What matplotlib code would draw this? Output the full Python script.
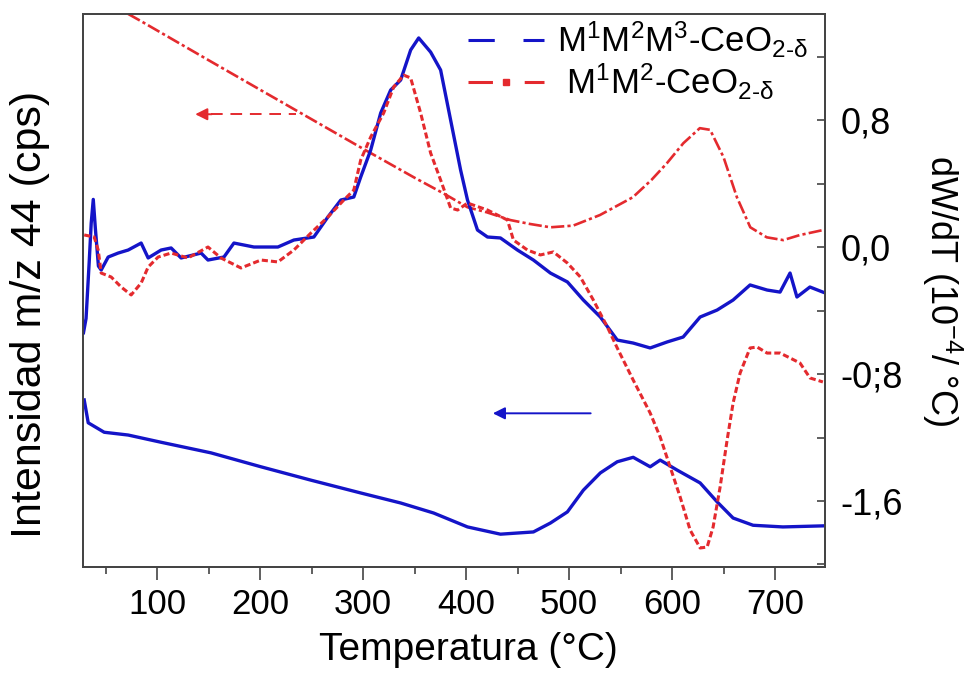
import numpy as np
import matplotlib.pyplot as plt
from matplotlib.lines import Line2D
from matplotlib.ticker import FixedLocator, MultipleLocator

plt.rcParams['font.family'] = ['Liberation Sans', 'DejaVu Sans']
plt.rcParams['mathtext.fontset'] = 'custom'
plt.rcParams['mathtext.rm'] = 'Liberation Sans'
plt.rcParams['mathtext.it'] = 'Liberation Sans'

BLUE = '#1414c8'
RED = '#e42a2e'

# MS signal m/z 44 (left axis, arbitrary units)
ms_blue_t = [29.2, 33.1, 48.6, 71.9, 103.9, 152.3, 200.8, 249.3, 297.7, 336.5,
             368.5, 401.4, 433.4, 465.4, 481.9, 498.4, 513.9, 530.4, 546.8,
             562.3, 578.8, 588.5, 605.0, 627.3, 643.8, 659.3, 678.7, 707.7, 748.4]
ms_blue_v = [30.0, 25.9, 24.2, 23.7, 22.4, 20.5, 18.0, 15.6, 13.3, 11.5,
             9.7, 7.2, 5.9, 6.3, 7.9, 9.9, 13.8, 16.9, 18.9,
             19.7, 18.0, 19.2, 17.4, 15.1, 11.7, 8.8, 7.5, 7.2, 7.4]

ms_red_t = [72, 84.5, 150, 200, 250, 300, 350, 378, 401.4, 420, 443, 462,
            481.9, 504, 530, 562, 580, 595, 611, 627, 637, 650, 663, 676,
            692, 708, 724, 746.5]
ms_red_v = [99.3, 98.0, 91.0, 85.7, 80.4, 75.1, 69.9, 67.1, 64.6, 63.7, 62.3,
            61.6, 61.0, 61.3, 63.2, 66.4, 69.5, 72.5, 76.1, 78.8, 78.5, 73.6,
            66.4, 61.0, 59.2, 58.7, 59.6, 60.5]

# DTG (right axis, 10^-4 / ºC)
dtg_blue_t = [28.5, 31, 34, 36, 38, 40, 43, 45.7, 52.5, 62.2, 71.9, 84.5,
              91.3, 103.9, 113.6, 123.3, 142.7, 149.4, 164.9, 174.6, 194,
              217.3, 232.8, 252.2, 265.8, 278.4, 291, 297.7, 307.4, 317.1,
              326.8, 336.5, 346.2, 354, 365.6, 375.3, 385, 394.7, 401.4,
              411.1, 420.8, 433.4, 449.9, 465.4, 481.9, 498.4, 513.9, 530.4,
              546.8, 562.3, 578.8, 595.3, 610.8, 627.3, 643.8, 659.3, 675.8,
              692.3, 704.9, 714.6, 721.3, 733.9, 746.5]
dtg_blue_v = [-0.54, -0.45, -0.10, 0.15, 0.30, 0.12, -0.12, -0.145, -0.063,
              -0.038, -0.019, 0.025, -0.069, -0.019, -0.006, -0.069, -0.038,
              -0.082, -0.063, 0.025, 0.0, 0.0, 0.044, 0.063, 0.189, 0.296,
              0.315, 0.441, 0.611, 0.844, 0.989, 1.052, 1.241, 1.317, 1.228,
              1.115, 0.800, 0.485, 0.296, 0.107, 0.063, 0.057, -0.019, -0.082,
              -0.164, -0.220, -0.334, -0.441, -0.586, -0.605, -0.636, -0.598,
              -0.567, -0.441, -0.397, -0.334, -0.239, -0.271, -0.284, -0.164,
              -0.315, -0.252, -0.284]

dtg_red_t = [29.2, 38.9, 42.8, 45.7, 55.4, 65.1, 74.8, 84.5, 91.3, 101,
             113.6, 130, 149.4, 162, 181.4, 200.8, 217.3, 232.8, 249.3, 265.8,
             281.3, 291, 297.7, 307.4, 320, 329.7, 339.4, 346.2, 355.9, 365.6,
             375.3, 385, 391.8, 401.4, 420.8, 440.2, 446, 459.6, 472.2, 484.8,
             498.4, 511, 523.6, 537.2, 546.8, 562.3, 578.8, 588.5, 598.2,
             607.9, 617.6, 627.3, 634.1, 639.9, 646.7, 653.5, 659.3, 666.1,
             675.8, 682.6, 692.3, 704.9, 714.6, 724.3, 734, 746.5]
dtg_red_v = [0.076, 0.063, -0.019, -0.164, -0.189, -0.252, -0.302, -0.227,
             -0.126, -0.063, -0.038, -0.069, 0.0, -0.069, -0.132, -0.082,
             -0.094, -0.019, 0.088, 0.189, 0.296, 0.359, 0.548, 0.693, 0.844,
             1.008, 1.083, 1.065, 0.844, 0.592, 0.422, 0.246, 0.233, 0.277,
             0.233, 0.170, 0.044, -0.019, -0.050, -0.031, -0.101, -0.189,
             -0.334, -0.504, -0.636, -0.838, -1.046, -1.197, -1.386, -1.575,
             -1.783, -1.896, -1.890, -1.764, -1.512, -1.216, -0.983, -0.794,
             -0.636, -0.630, -0.668, -0.668, -0.699, -0.731, -0.825, -0.850]

right_ticks = [-1.6, -0.8, 0.0, 0.8]
right_labels = ['-1,6', '-0;8', '0,0', '0,8']
labels = [r'M$^1$M$^2$M$^3$-CeO$_{2‐\delta}$', r' M$^1$M$^2$-CeO$_{2‐\delta}$']

fig = plt.figure(figsize=(9.67, 6.79), dpi=100)
ax = fig.add_axes([0.0858, 0.1649, 0.7673, 0.8145])
ax2 = ax.twinx()

ax.plot(ms_blue_t, ms_blue_v, color=BLUE, lw=2.4)
ax.plot(ms_red_t, ms_red_v, color=RED, lw=1.9, ls=(0, (5, 1.2, 1.2, 1.2)))
ax2.plot(dtg_blue_t, dtg_blue_v, color=BLUE, lw=2.4)
ax2.plot(dtg_red_t, dtg_red_v, color=RED, lw=2.2, ls=(0, (2, 1)))

ax.set_xlim(28, 748.5)
ax.set_ylim(0, 99.3)
ax2.set_ylim(-2.016, 1.468)

# arrows pointing to the left axis
ax.plot([152, 235], [81.3, 81.3], color=RED, lw=1.4, ls=(0, (6, 4)))
ax.annotate('', xy=(137, 81.3), xytext=(153, 81.3),
            arrowprops=dict(arrowstyle='-|>', color=RED, lw=1.4,
                            mutation_scale=18, shrinkA=0, shrinkB=0))
ax.annotate('', xy=(426, 27.6), xytext=(521, 27.6),
            arrowprops=dict(arrowstyle='-|>', color=BLUE, lw=1.4,
                            mutation_scale=18, shrinkA=0, shrinkB=0))

for a in (ax, ax2):
    for s in a.spines.values():
        s.set_color('#444444')
        s.set_linewidth(1.3)

ax.xaxis.set_major_locator(MultipleLocator(100))
ax.xaxis.set_minor_locator(MultipleLocator(50))
ax.tick_params(axis='x', which='major', direction='out', length=9, width=1.2,
               labelsize=25, pad=6, color='#444444')
ax.tick_params(axis='x', which='minor', direction='out', length=5, width=1.2,
               color='#444444')
ax.tick_params(axis='y', left=False, labelleft=False)

ax2.yaxis.set_major_locator(FixedLocator(right_ticks))
ax2.set_yticklabels(right_labels)
ax2.yaxis.set_minor_locator(MultipleLocator(0.4))
ax2.tick_params(axis='y', which='both', direction='in', length=6, width=1.2,
                labelsize=26, pad=11, color='#444444')

ax.set_xlabel('Temperatura (°C)', fontsize=28)
ax.xaxis.set_label_coords(0.52, -0.118)
ax.set_ylabel('Intensidad m/z 44 (cps)', fontsize=31)
ax.yaxis.set_label_coords(-0.045, 0.456)
ax2.set_ylabel(r'dW/dT (10$^{-4}$/ °C)', fontsize=26, rotation=270, labelpad=44)

handles = [
    Line2D([], [], color=BLUE, lw=2.2, ls=(0, (8.6, 9.4, 8.6, 20))),
    Line2D([], [], color=RED, lw=2.2, ls=(0, (8, 10.4, 8.6, 20)),
           marker='s', markersize=4.5),
]
ax.legend(handles, labels, loc='upper left', bbox_to_anchor=(0.519, 0.99),
          frameon=False, fontsize=25, handlelength=2.2, handletextpad=0.35,
          borderpad=0, borderaxespad=0, labelspacing=0.05)

fig.savefig('out.png', dpi=100)
